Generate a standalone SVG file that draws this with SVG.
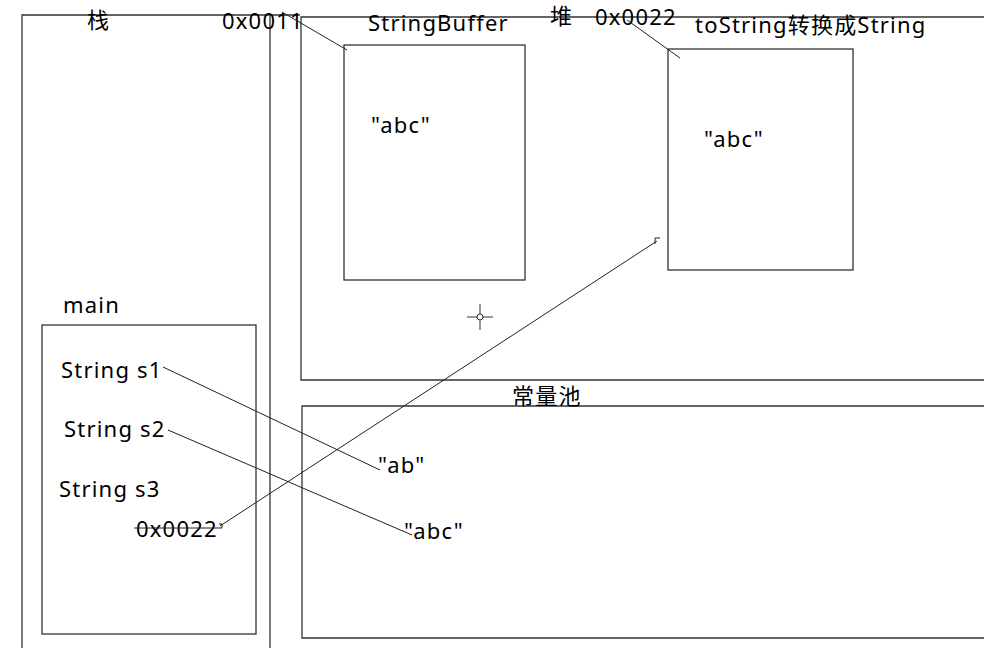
<svg xmlns="http://www.w3.org/2000/svg" width="984" height="648" viewBox="0 0 984 648">
<style>
.box{fill:none;stroke:#333;stroke-width:1.3}
.ln{fill:none;stroke:#222;stroke-width:1}
text{font-family:"Noto Sans","Noto Sans CJK SC",sans-serif;font-size:22px;letter-spacing:1.2px;fill:#000}
</style>
<rect x="0" y="0" width="984" height="648" fill="#fff"/>
<g id="stack">
<path class="box" d="M22,648 V15 H300 M270,15 V648"/>
<text x="87" y="28">栈</text>
</g>
<g id="heap">
<path class="box" d="M984,17 H301 V380 H984"/>
<text x="550" y="24">堆</text>
</g>
<g id="pool">
<path class="box" d="M984,406 H302 V638 H984"/>
<text x="512" y="404">常量池</text>
</g>
<g id="main">
<rect class="box" x="42" y="325" width="214" height="309"/>
<text x="63" y="313">main</text>
<text x="61" y="378">String s1</text>
<text x="64" y="437">String s2</text>
<text x="59" y="497">String s3</text>
<text x="136" y="537">0x0022</text>
</g>
<g id="stringbuffer">
<rect class="box" x="344" y="45" width="181" height="235"/>
<text x="368" y="31">StringBuffer</text>
<text x="222" y="29">0x0011</text>
<text x="371" y="133">"abc"</text>
</g>
<g id="tostring">
<rect class="box" x="668" y="49" width="185" height="221"/>
<text x="695" y="33">toString转换成String</text>
<text x="595" y="25">0x0022</text>
<text x="704" y="147">"abc"</text>
</g>
<g id="ab">
<text x="378" y="473">"ab"</text>
</g>
<g id="abc">
<text x="404" y="539">"abc"</text>
</g>
<g id="cursor" stroke="#333" stroke-width="1" fill="none">
<path d="M480,304 V330 M467,317 H493"/>
<circle cx="480" cy="317" r="3" fill="#fff"/>
</g>
<g id="connectors">
<path class="ln" d="M282,12 L347,50"/>
<path class="ln" d="M627,20 L680,58"/>
<path class="ln" d="M134,528 H222 V524 H219 M220,526 L657,241 M655,244 V238 H660"/>
<path class="ln" d="M163,367 L380,470"/>
<path class="ln" d="M168,430 L412,535"/>
</g>
</svg>
